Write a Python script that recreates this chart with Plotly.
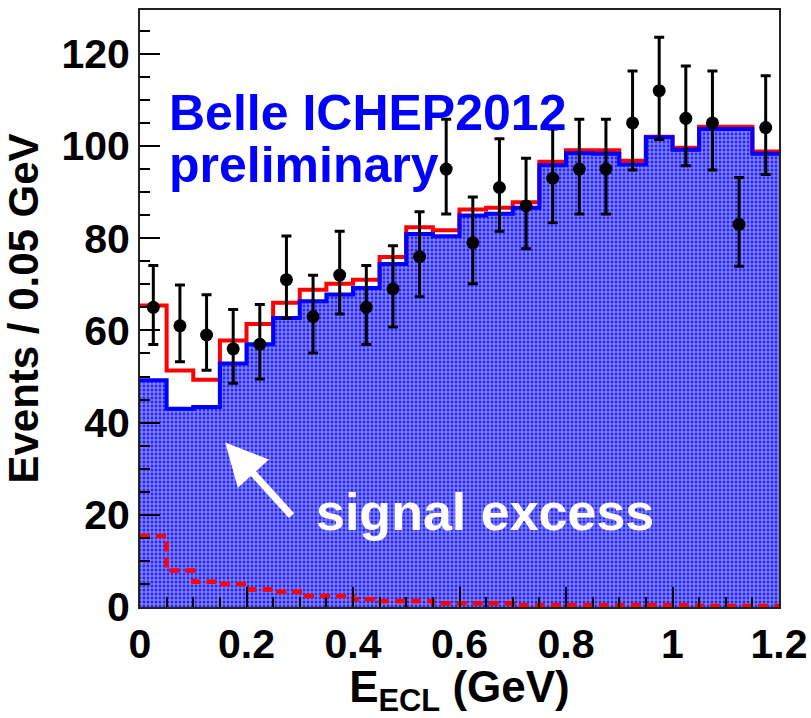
import numpy as np
import plotly.graph_objects as go

# Binning: 24 bins of 0.05 GeV over E_ECL in [0, 1.2] GeV
E_LO, E_HI, N_BINS = 0.0, 1.2, 24
edges = np.linspace(E_LO, E_HI, N_BINS + 1)
centers = 0.5 * (edges[:-1] + edges[1:])

# Observed events per bin
data_counts = [65, 61, 59, 56, 57, 71, 63, 72, 65, 69, 76, 95,
               79, 91, 87, 93, 95, 95, 105, 112, 106, 105, 83, 104]

# Fitted background component (blue, hatched)
bkg_fit = [49.2, 43.0, 43.4, 52.8, 57.0, 62.7, 66.3, 67.8, 69.2, 74.4, 80.9, 80.4,
           84.9, 85.3, 86.6, 95.8, 98.4, 98.3, 96.0, 101.9, 99.2, 103.7, 103.7, 98.3]

# Total fit, signal + background (red solid)
total_fit = [65.4, 51.3, 49.3, 57.8, 61.4, 66.0, 68.8, 70.1, 71.0, 75.9, 82.4, 81.7,
             86.2, 86.6, 87.8, 96.6, 99.1, 99.1, 96.8, 102.0, 99.6, 104.2, 104.2, 98.8]

# Signal component (red dashed)
sig_fit = [15.4, 7.9, 5.5, 5.0, 3.8, 3.3, 2.4, 2.4, 1.7, 1.3, 1.3, 0.8,
           0.8, 0.8, 0.4, 0.4, 0.4, 0.4, 0.4, 0.4, 0.4, 0.2, 0.2, 0.2]

x_tick_vals = [0, 0.2, 0.4, 0.6, 0.8, 1.0, 1.2]
x_tick_text = ["0", "0.2", "0.4", "0.6", "0.8", "1", "1.2"]


def step_y(vals):
    # hv step needs the last bin value repeated at the upper edge
    return list(vals) + [vals[-1]]


# Poisson (Garwood) 68% intervals, Wilson-Hilferty approximation
n = np.array(data_counts, dtype=float)
upper = (n + 1) * (1 - 1 / (9 * (n + 1)) + 1 / (3 * np.sqrt(n + 1))) ** 3
lower = n * (1 - 1 / (9 * n) - 1 / (3 * np.sqrt(n))) ** 3
err_up = upper - n
err_dn = n - lower

FONT = "Liberation Sans"
BLUE = "#0000ff"
RED = "#ff0000"

fig = go.Figure()

# Background: fine blue mesh fill (white dots on blue)
fig.add_trace(go.Scatter(
    x=edges, y=step_y(bkg_fit), mode="lines", line_shape="hv",
    line=dict(color=BLUE, width=0), fill="tozeroy",
    fillpattern=dict(shape=".", fgcolor="white", bgcolor=BLUE, size=4, solidity=0.7),
    hoverinfo="skip",
))

# Total fit
fig.add_trace(go.Scatter(
    x=edges, y=step_y(total_fit), mode="lines", line_shape="hv",
    line=dict(color=RED, width=4), hoverinfo="skip",
))

# Background outline
fig.add_trace(go.Scatter(
    x=edges, y=step_y(bkg_fit), mode="lines", line_shape="hv",
    line=dict(color=BLUE, width=4), hoverinfo="skip",
))

# Signal component
fig.add_trace(go.Scatter(
    x=edges, y=step_y(sig_fit), mode="lines", line_shape="hv",
    line=dict(color=RED, width=4.5, dash="10px,6px"), hoverinfo="skip",
))

# Data points
fig.add_trace(go.Scatter(
    x=centers, y=data_counts, mode="markers",
    marker=dict(color="black", size=13, symbol="circle"),
    error_y=dict(type="data", symmetric=False, array=err_up, arrayminus=err_dn,
                 color="black", thickness=3, width=5),
    hoverinfo="skip",
))

fig.add_annotation(x=0.042, y=0.827, xref="paper", yref="paper",
                   text="Belle ICHEP2012", showarrow=False,
                   xanchor="left", yanchor="middle",
                   font=dict(family=FONT, size=50, color=BLUE, weight="bold"))
fig.add_annotation(x=0.042, y=0.741, xref="paper", yref="paper",
                   text="preliminary", showarrow=False,
                   xanchor="left", yanchor="middle",
                   font=dict(family=FONT, size=50, color=BLUE, weight="bold"))
fig.add_annotation(x=0.272, y=0.159, xref="paper", yref="paper",
                   text="signal excess", showarrow=False,
                   xanchor="left", yanchor="middle",
                   font=dict(family=FONT, size=52, color="white", weight="bold"))
# Arrow pointing at the low-energy excess
fig.add_annotation(x=0.16, y=35.7, ax=0.287, ay=19.5,
                   xref="x", yref="y", axref="x", ayref="y",
                   text="", showarrow=True, arrowhead=2, arrowsize=1.2,
                   arrowwidth=7, arrowcolor="white")

axis_common = dict(
    showline=True, mirror=True, linecolor="#222222", linewidth=2,
    showgrid=False, zeroline=False, ticks="inside", tickcolor="black",
    tickwidth=2, ticklen=20, automargin=False,
    tickfont=dict(family=FONT, size=41, color="black", weight="bold"),
)

fig.update_xaxes(
    range=[E_LO, E_HI], tickvals=x_tick_vals, ticktext=x_tick_text,
    minor=dict(dtick=0.05, tick0=0, ticks="inside", ticklen=10, tickwidth=2,
               tickcolor="black"),
    title=dict(text="E<sub>ECL</sub> (GeV)", standoff=16,
               font=dict(family=FONT, size=44, color="black", weight="bold")),
    **axis_common,
)
fig.update_yaxes(
    range=[0, 129.5], tick0=0, dtick=20,
    minor=dict(dtick=5, tick0=0, ticks="inside", ticklen=10, tickwidth=2,
               tickcolor="black"),
    title=dict(text="Events / 0.05 GeV", standoff=14,
               font=dict(family=FONT, size=42, color="black", weight="bold")),
    **axis_common,
)

fig.update_layout(
    width=811, height=718,
    margin=dict(l=140, r=32, t=10, b=111),
    plot_bgcolor="white", paper_bgcolor="white",
    showlegend=False,
)

fig.write_html("out.html")
